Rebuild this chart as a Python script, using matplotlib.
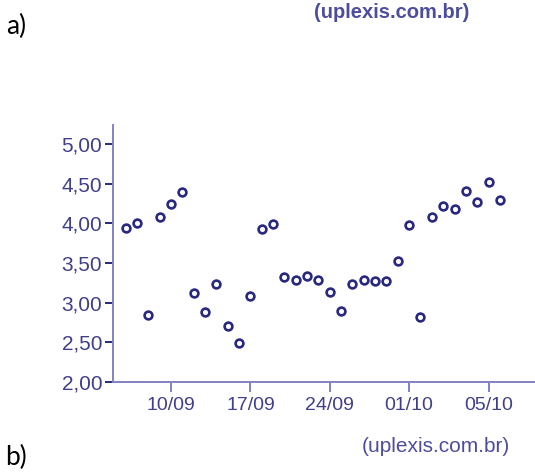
import matplotlib.pyplot as plt
import numpy as np

# valores (um ponto por pregao)
valores = [3.94, 4.00, 2.84, 4.08, 4.24, 4.40, 3.12, 2.88, 3.24, 2.70,
           2.49, 3.09, 3.93, 3.99, 3.33, 3.28, 3.34, 3.29, 3.13, 2.89,
           3.23, 3.29, 3.27, 3.27, 3.53, 3.98, 2.82, 4.08, 4.22, 4.18,
           4.41, 4.27, 4.52, 4.29]
xtick_pos = [4, 11, 18, 25, 32]
xtick_labels = ["10/09", "17/09", "24/09", "01/10", "05/10"]
ytick_vals = [2.0, 2.5, 3.0, 3.5, 4.0, 4.5, 5.0]
ytick_labels = ["2,00", "2,50", "3,00", "3,50", "4,00", "4,50", "5,00"]

navy = "#28287f"
txtcol = "#3f3f8a"
axcol = "#8282c2"

plt.rcParams['font.family'] = ['Liberation Sans', 'DejaVu Sans']

fig = plt.figure(figsize=(5.35, 4.72), dpi=100)
ax = fig.add_axes([113/535, 1-382/472, 1-113/535, (382-125)/472])

x = np.arange(len(valores))
ax.plot(x, valores, 'o', ls='none', mfc='white', mec=navy, ms=5.6, mew=1.9)

ax.set_xlim(-1.12, 36.1)
ax.set_ylim(2.0, 5.24)
ax.set_xticks(xtick_pos)
ax.set_xticklabels(xtick_labels)
ax.set_yticks(ytick_vals)
ax.set_yticklabels(ytick_labels)

for s in ['top', 'right']:
    ax.spines[s].set_visible(False)
for s in ['left', 'bottom']:
    ax.spines[s].set_color(axcol)
    ax.spines[s].set_linewidth(1.4)

ax.tick_params(axis='y', length=5.8, width=1.4, color=navy, labelcolor=txtcol,
               labelsize=15, pad=2)
ax.tick_params(axis='x', length=7, width=1.4, color=axcol, labelcolor=txtcol,
               labelsize=14, pad=4)

fig.text(6/535, 1-26/472, "a)", fontsize=19, family=['Lato', 'DejaVu Sans'],
         color='black', va='center', ha='left')
fig.text(392/535, 1-13/472, "(uplexis.com.br)", fontsize=14.5, fontweight='bold',
         color="#4d4d9e", va='center', ha='center')
fig.text(436/535, 1-447/472, "(uplexis.com.br)", fontsize=15,
         color="#4d4d9e", va='center', ha='center')
fig.text(5/535, 1-470/472, "b)", fontsize=19, family=['Lato', 'DejaVu Sans'],
         color='black', va='bottom', ha='left')

plt.savefig("out.png", dpi=100)
